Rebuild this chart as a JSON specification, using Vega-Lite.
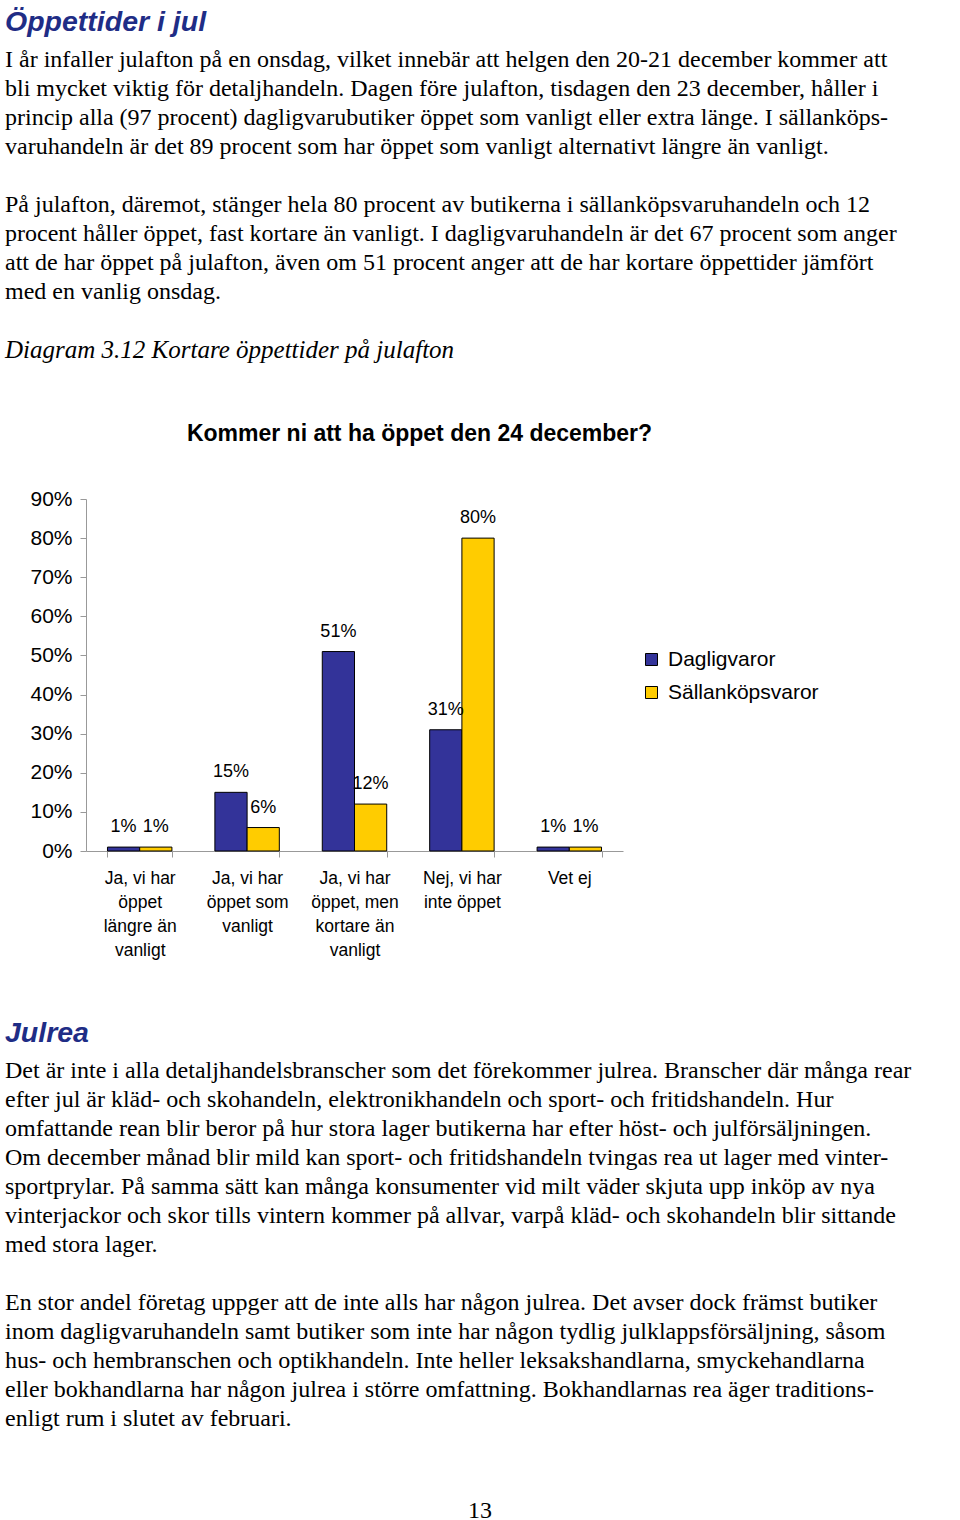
{
  "$schema": "https://vega.github.io/schema/vega-lite/v6.json",
  "padding": {"left": 5, "top": 7, "right": 5, "bottom": 0},
  "config": {"view": {"stroke": null}, "font": "Liberation Sans"},
  "title": {
    "text": "Öppettider i jul",
    "subtitle": [
      "I år infaller julafton på en onsdag, vilket innebär att helgen den 20-21 december kommer att",
      "bli mycket viktig för detaljhandeln. Dagen före julafton, tisdagen den 23 december, håller i",
      "princip alla (97 procent) dagligvarubutiker öppet som vanligt eller extra länge. I sällanköps-",
      "varuhandeln är det 89 procent som har öppet som vanligt alternativt längre än vanligt."
    ],
    "anchor": "start",
    "frame": "group",
    "dx": -81,
    "font": "Liberation Sans",
    "fontSize": 28.5,
    "fontWeight": "bold",
    "fontStyle": "italic",
    "color": "#1f2d86",
    "subtitleFont": "Liberation Serif",
    "subtitleFontSize": 24,
    "subtitleColor": "#000000",
    "subtitleLineHeight": 29,
    "subtitlePadding": 12,
    "offset": 34
  },
  "spacing": 59,
  "vconcat": [
    {
      "title": {
        "text": [
          "På julafton, däremot, stänger hela 80 procent av butikerna i sällanköpsvaruhandeln och 12",
          "procent håller öppet, fast kortare än vanligt. I dagligvaruhandeln är det 67 procent som anger",
          "att de har öppet på julafton, även om 51 procent anger att de har kortare öppettider jämfört",
          "med en vanlig onsdag."
        ],
        "anchor": "start",
        "frame": "group",
        "dx": -81,
        "font": "Liberation Serif",
        "fontSize": 24,
        "fontWeight": "normal",
        "fontStyle": "normal",
        "color": "#000000",
        "lineHeight": 29,
        "offset": 34
      },
      "vconcat": [
        {
          "title": {
            "text": "Diagram 3.12 Kortare öppettider på julafton",
            "anchor": "start",
            "frame": "group",
            "dx": -81,
            "font": "Liberation Serif",
            "fontSize": 25,
            "fontWeight": "normal",
            "fontStyle": "italic",
            "color": "#000000",
            "offset": 60
          },
          "vconcat": [
            {
              "width": 537,
              "height": 352,
              "title": {
                "text": "Kommer ni att ha öppet den 24 december?",
                "anchor": "middle",
                "frame": "group",
                "dx": 65,
                "font": "Liberation Sans",
                "fontSize": 23,
                "fontWeight": "bold",
                "color": "#000000",
                "offset": 42
              },
              "data": {
                "values": [
                  {"svar": "Ja, vi har\nöppet\nlängre än\nvanligt", "grupp": "Dagligvaror", "andel": 0.01},
                  {"svar": "Ja, vi har\nöppet\nlängre än\nvanligt", "grupp": "Sällanköpsvaror", "andel": 0.01},
                  {"svar": "Ja, vi har\nöppet som\nvanligt", "grupp": "Dagligvaror", "andel": 0.15},
                  {"svar": "Ja, vi har\nöppet som\nvanligt", "grupp": "Sällanköpsvaror", "andel": 0.06},
                  {"svar": "Ja, vi har\nöppet, men\nkortare än\nvanligt", "grupp": "Dagligvaror", "andel": 0.51},
                  {"svar": "Ja, vi har\nöppet, men\nkortare än\nvanligt", "grupp": "Sällanköpsvaror", "andel": 0.12},
                  {"svar": "Nej, vi har\ninte öppet", "grupp": "Dagligvaror", "andel": 0.31},
                  {"svar": "Nej, vi har\ninte öppet", "grupp": "Sällanköpsvaror", "andel": 0.80},
                  {"svar": "Vet ej", "grupp": "Dagligvaror", "andel": 0.01},
                  {"svar": "Vet ej", "grupp": "Sällanköpsvaror", "andel": 0.01}
                ]
              },
              "encoding": {
                "x": {
                  "field": "svar",
                  "type": "nominal",
                  "sort": null,
                  "scale": {"paddingInner": 0.4, "paddingOuter": 0.2},
                  "axis": {
                    "title": null,
                    "labelAngle": 0,
                    "labelExpr": "split(datum.label, '\\n')",
                    "labelFont": "Liberation Sans",
                    "labelFontSize": 17.5,
                    "labelLineHeight": 24,
                    "labelColor": "#000000",
                    "labelPadding": 12,
                    "labelBaseline": "top",
                    "labelLimit": 200,
                    "labelOverlap": false,
                    "tickBand": "extent",
                    "tickSize": 6,
                    "tickColor": "#999999",
                    "domainColor": "#999999"
                  }
                },
                "xOffset": {"field": "grupp", "type": "nominal", "sort": ["Dagligvaror", "Sällanköpsvaror"]},
                "y": {
                  "field": "andel",
                  "type": "quantitative",
                  "scale": {"domain": [0, 0.9]},
                  "axis": {
                    "title": null,
                    "format": ".0%",
                    "values": [0, 0.1, 0.2, 0.3, 0.4, 0.5, 0.6, 0.7, 0.8, 0.9],
                    "grid": false,
                    "labelFont": "Liberation Sans",
                    "labelFontSize": 21,
                    "labelColor": "#000000",
                    "labelPadding": 8,
                    "tickSize": 6,
                    "tickColor": "#999999",
                    "domainColor": "#999999",
                    "minExtent": 81
                  }
                }
              },
              "layer": [
                {
                  "mark": {"type": "bar", "stroke": "#000000", "strokeWidth": 1},
                  "encoding": {
                    "color": {
                      "field": "grupp",
                      "type": "nominal",
                      "scale": {"domain": ["Dagligvaror", "Sällanköpsvaror"], "range": ["#333399", "#ffcc00"]},
                      "legend": {
                        "title": null,
                        "orient": "none",
                        "legendX": 555,
                        "legendY": 150,
                        "symbolType": "square",
                        "symbolSize": 144,
                        "symbolStrokeColor": "#000000",
                        "symbolStrokeWidth": 1,
                        "labelFont": "Liberation Sans",
                        "labelFontSize": 21,
                        "labelColor": "#000000",
                        "labelOffset": 6,
                        "rowPadding": 11
                      }
                    }
                  }
                },
                {
                  "mark": {"type": "text", "dy": -20, "font": "Liberation Sans", "fontSize": 18, "color": "#000000"},
                  "encoding": {"text": {"field": "andel", "type": "quantitative", "format": ".0%"}}
                }
              ]
            }
          ]
        }
      ]
    },
    {
      "title": {
        "text": "Julrea",
        "subtitle": [
          "Det är inte i alla detaljhandelsbranscher som det förekommer julrea. Branscher där många rear",
          "efter jul är kläd- och skohandeln, elektronikhandeln och sport- och fritidshandeln. Hur",
          "omfattande rean blir beror på hur stora lager butikerna har efter höst- och julförsäljningen.",
          "Om december månad blir mild kan sport- och fritidshandeln tvingas rea ut lager med vinter-",
          "sportprylar. På samma sätt kan många konsumenter vid milt väder skjuta upp inköp av nya",
          "vinterjackor och skor tills vintern kommer på allvar, varpå kläd- och skohandeln blir sittande",
          "med stora lager."
        ],
        "anchor": "start",
        "frame": "group",
        "dx": -81,
        "font": "Liberation Sans",
        "fontSize": 28.5,
        "fontWeight": "bold",
        "fontStyle": "italic",
        "color": "#1f2d86",
        "subtitleFont": "Liberation Serif",
        "subtitleFontSize": 24,
        "subtitleColor": "#000000",
        "subtitleLineHeight": 29,
        "subtitlePadding": 12,
        "offset": 34
      },
      "vconcat": [
        {
          "title": {
            "text": [
              "En stor andel företag uppger att de inte alls har någon julrea. Det avser dock främst butiker",
              "inom dagligvaruhandeln samt butiker som inte har någon tydlig julklappsförsäljning, såsom",
              "hus- och hembranschen och optikhandeln. Inte heller leksakshandlarna, smyckehandlarna",
              "eller bokhandlarna har någon julrea i större omfattning. Bokhandlarnas rea äger traditions-",
              "enligt rum i slutet av februari."
            ],
            "anchor": "start",
            "frame": "group",
            "dx": -81,
            "font": "Liberation Serif",
            "fontSize": 24,
            "fontWeight": "normal",
            "fontStyle": "normal",
            "color": "#000000",
            "lineHeight": 29,
            "offset": 68
          },
          "width": 788,
          "height": 20,
          "data": {"values": [{"sida": "13"}]},
          "mark": {"type": "text", "font": "Liberation Serif", "fontSize": 24, "color": "#000000"},
          "encoding": {"text": {"field": "sida", "type": "nominal"}}
        }
      ]
    }
  ]
}
